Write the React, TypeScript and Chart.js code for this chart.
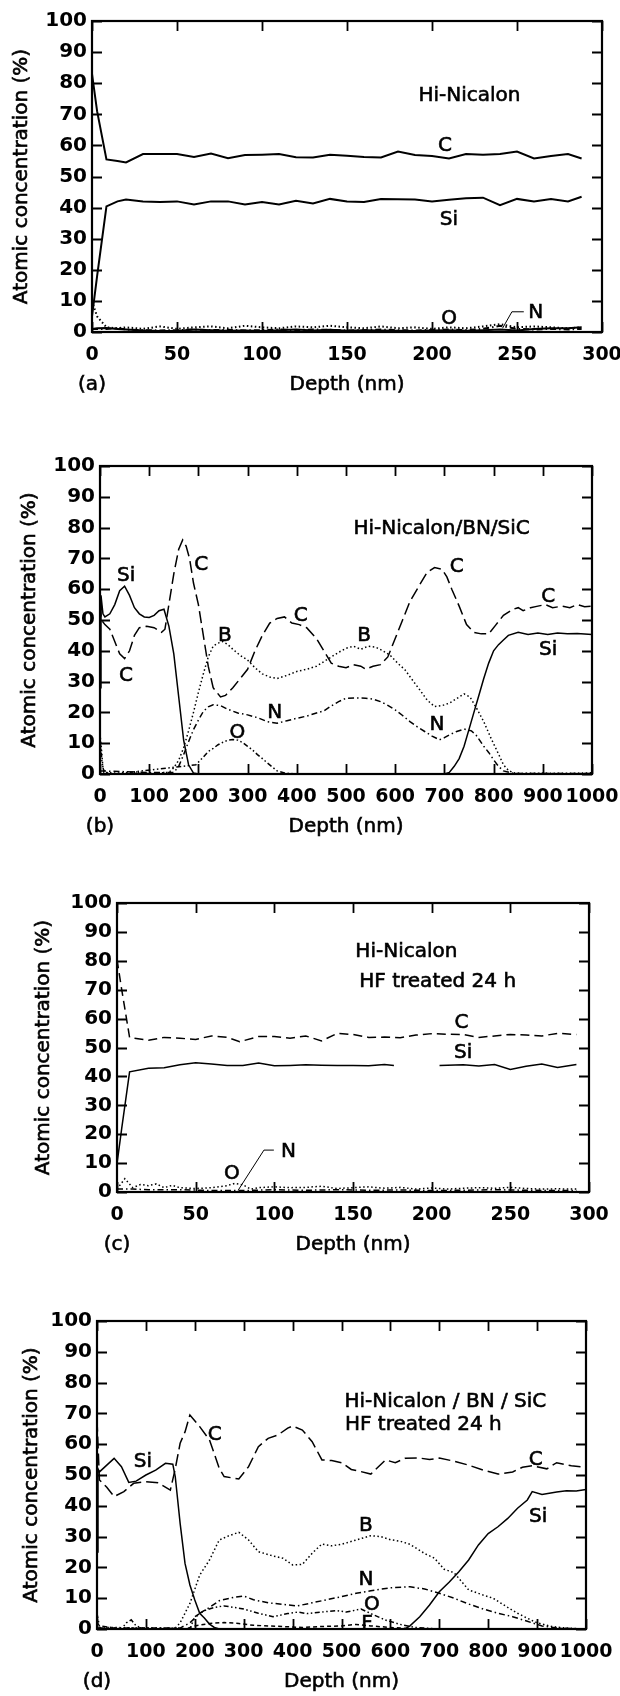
import React, { useEffect, useRef } from 'react';
import { Chart, registerables } from 'chart.js';

Chart.register(...registerables);

const FONT = '"DejaVu Sans", sans-serif';

// ---------------- Panel (a) Hi-Nicalon ----------------
const aDepth = [0, 3, 8.5, 15, 20, 30, 40, 50, 60, 70, 80, 90, 100, 110, 120, 130, 140, 150, 160, 170, 180, 190, 200, 210, 220, 230, 240, 250, 260, 270, 280, 288];
const aC = [83, 71, 55.5, 55, 54.5, 57.2, 57.2, 57.2, 56.3, 57.4, 55.9, 56.9, 57, 57.2, 56.2, 56.1, 57, 56.7, 56.3, 56.1, 58, 56.9, 56.6, 55.8, 57.2, 57, 57.2, 58, 55.8, 56.6, 57.2, 55.8];
const aSi = [5, 18, 40.4, 42, 42.6, 42, 41.8, 42, 41, 42, 42, 41, 41.8, 41, 42.2, 41.3, 42.8, 42, 41.8, 42.8, 42.7, 42.6, 42, 42.5, 43, 43.2, 40.8, 42.8, 42, 42.8, 42, 43.5];
const aO = [10, 5, 1.5, 1.2, 1.5, 1, 1.8, 1, 1.5, 1.8, 1.2, 2, 1.5, 1.2, 1.8, 1.5, 2, 1.5, 1.2, 1.8, 1.2, 1.5, 1, 1.5, 1.2, 1.8, 2.5, 1.5, 1.8, 1.5, 1.2, 1.5];
const aN = [1, 1, 1, 1.2, 0.8, 0.6, 0.5, 0.6, 0.8, 0.6, 0.7, 0.5, 0.6, 0.8, 0.6, 0.8, 0.7, 0.5, 0.6, 0.8, 0.6, 0.5, 0.7, 0.8, 0.6, 1, 2, 1, 0.8, 1, 0.8, 1];
const aB = [1, 1.2, 1.3, 1, 0.8, 0.5, 0.3, 0.3, 0.8, 0.6, 0.4, 0.5, 0.3, 0.6, 0.8, 0.5, 0.7, 0.4, 0.6, 0.5, 0.4, 0.3, 0.5, 0.6, 0.4, 0.6, 0.8, 0.5, 1, 1.2, 1.2, 1.5];

// ---------------- Panel (b) Hi-Nicalon/BN/SiC ----------------
const bSiDepth = [0, 2, 6, 10, 20, 30, 40, 50, 60, 70, 80, 90, 100, 110, 120, 130, 140, 150, 160, 170, 180, 190, 200, 700, 710, 720, 730, 740, 750, 760, 770, 780, 790, 800, 810, 820, 830, 850, 870, 890, 910, 930, 950, 970, 1000];
const bSi = [28, 58, 52, 51, 52, 55, 59.5, 61, 58, 54, 52, 51, 50.8, 51.5, 53, 53.5, 48, 39, 25, 11, 3, 0.3, 0, 0, 0.5, 2.5, 5, 9, 14.5, 20, 25.5, 31, 36, 40, 42, 43.5, 45, 46, 45.3, 45.8, 45.3, 45.8, 45.5, 45.6, 45.3];
const bCDepth = [0, 3, 10, 20, 30, 40, 50, 60, 70, 80, 95, 110, 125, 132, 140, 150, 160, 168, 175, 182, 190, 200, 210, 220, 230, 245, 255, 270, 285, 300, 315, 330, 345, 360, 375, 390, 405, 420, 440, 455, 470, 485, 500, 515, 530, 540, 555, 570, 585, 600, 615, 630, 650, 665, 680, 695, 705, 715, 730, 745, 760, 775, 790, 805, 820, 840, 850, 860, 875, 890, 905, 920, 940, 955, 970, 985, 1000];
const bC = [55, 50, 48.5, 47, 43, 39, 37.5, 40, 45, 47.5, 48, 47.5, 46, 47, 55, 65, 73, 76, 74, 70, 62, 55, 45, 35, 28, 25, 25.5, 28, 31, 34, 40, 45, 49, 50.5, 51, 49, 48.5, 47.5, 44, 40, 36, 35, 34.5, 35.5, 35, 34, 35, 35.5, 38, 44, 50, 56, 61.5, 65.5, 67, 66.5, 64, 60, 54.5, 48.5, 46, 45.5, 45.5, 48.5, 51.5, 53.5, 54, 53, 54, 54.5, 55, 54, 54.5, 54, 55, 54.3, 54.5];
const bBDepth = [0, 3, 6, 10, 30, 60, 100, 140, 150, 160, 170, 180, 190, 200, 210, 220, 230, 240, 250, 260, 270, 285, 300, 315, 330, 345, 360, 380, 400, 420, 440, 455, 470, 485, 500, 515, 530, 545, 560, 575, 590, 605, 620, 635, 650, 665, 680, 695, 710, 725, 740, 752, 765, 780, 795, 810, 820, 830, 840, 860, 900, 950, 1000];
const bB = [13, 8, 2, 0.5, 0.3, 0.5, 0.3, 0.5, 2, 4.5, 8.5, 14, 20, 26.5, 32.5, 38, 41.5, 42.5, 43, 42, 40.5, 38.5, 37, 34.5, 32.5, 31.5, 31, 32, 33.3, 34, 35, 36.5, 38, 39.5, 40.8, 41.5, 40.5, 41.5, 41.2, 40, 38.5, 36, 33.8, 30.5, 27.3, 24, 21.9, 22.2, 23, 24.5, 26, 25, 21.5, 17, 11.5, 6.5, 3, 1.2, 0.4, 0.2, 0.3, 0.2, 0.4];
const bNDepth = [0, 100, 150, 160, 170, 180, 190, 200, 210, 220, 230, 245, 260, 280, 300, 320, 340, 360, 380, 400, 420, 440, 455, 470, 485, 500, 520, 540, 555, 570, 585, 600, 615, 630, 645, 660, 675, 690, 700, 710, 725, 740, 755, 765, 780, 790, 800, 810, 820, 840, 1000];
const bN = [1, 0.5, 0.5, 2.5, 6.3, 10.5, 14.4, 17.5, 20.3, 21.8, 22.5, 22.2, 21, 19.8, 19.2, 18.3, 17, 16.5, 17.3, 18.1, 18.8, 19.8, 20.5, 22.1, 23.5, 24.6, 24.7, 24.6, 24.3, 23.5, 22.3, 20.8, 19, 17, 15.3, 13.8, 12.3, 11.1, 11.8, 12.7, 13.8, 14.6, 14, 12.5, 9, 7, 4.6, 2.5, 1, 0.2, 0.2];
const bODepth = [0, 4, 8, 30, 195, 210, 220, 230, 240, 250, 260, 270, 280, 290, 300, 310, 320, 330, 340, 350, 360, 375, 400, 1000];
const bO = [12, 4, 0.5, 0, 3, 5.5, 7.3, 8.3, 9.5, 10.3, 11, 11.2, 11, 10.2, 9, 7.8, 6.3, 5, 3.6, 2.3, 1, 0.3, 0, 0];

// ---------------- Panel (c) Hi-Nicalon HF treated ----------------
const cCDepth = [0, 3, 8, 20, 30, 40, 50, 60, 70, 78, 90, 100, 110, 120, 130, 140, 150, 160, 170, 180, 190, 200, 210, 220, 230, 240, 250, 260, 270, 280, 292];
const cC = [80.5, 70, 53.5, 52.5, 53.5, 53.2, 52.8, 54, 53.5, 52, 53.8, 53.8, 53.2, 54, 52.3, 54.9, 54.5, 53.5, 53.6, 53.4, 54.3, 54.8, 54.6, 54.5, 53.5, 54, 54.5, 54.3, 54, 54.9, 54.5];
const cSiDepth = [0, 3, 8, 20, 30, 40, 50, 60, 70, 80, 90, 100, 110, 120, 130, 140, 150, 160, 170, 176, 190, 205, 220, 230, 240, 250, 260, 270, 280, 292];
const cSi = [9.8, 22, 41.6, 42.8, 43, 44, 44.7, 44.3, 43.8, 43.8, 44.6, 43.7, 43.8, 44, 43.9, 43.8, 43.8, 43.7, 44.1, 43.8, null, 43.8, 44, 43.6, 44.1, 42.4, 43.5, 44.3, 43.1, 44.1];
const cODepth = [0, 5, 10, 15, 20, 25, 30, 35, 40, 50, 60, 70, 75, 80, 85, 90, 100, 110, 120, 130, 140, 150, 160, 170, 180, 190, 200, 210, 220, 230, 240, 250, 260, 270, 280, 292];
const cO = [1, 4.6, 1.5, 2.6, 2.2, 2.8, 1.5, 2.3, 1.5, 1.2, 1.5, 2.2, 3, 2.5, 1, 1.5, 1.8, 1.5, 1.6, 2, 1.2, 1.5, 1.8, 1.3, 1.6, 1, 1.4, 1, 1.3, 1.5, 1.3, 1.6, 1.2, 1, 1.1, 1];
const cNDepth = [0, 10, 20, 40, 60, 80, 100, 120, 140, 160, 180, 200, 220, 240, 260, 280, 292];
const cN = [1, 1, 0.8, 0.8, 0.5, 0.5, 0.8, 0.6, 0.8, 0.6, 0.7, 0.5, 0.6, 0.8, 0.6, 0.5, 0.5];

// ---------------- Panel (d) Hi-Nicalon/BN/SiC HF treated ----------------
const dSiDepth = [0, 2, 5, 20, 35, 50, 65, 80, 100, 120, 140, 155, 160, 170, 180, 190, 200, 210, 220, 230, 240, 250, 630, 640, 660, 680, 700, 720, 740, 760, 780, 800, 820, 840, 860, 880, 890, 910, 940, 960, 980, 1000];
const dSi = [25, 52, 51, 53.2, 55.4, 52.7, 47.6, 48, 50, 51.6, 53.8, 53.5, 49.5, 34.3, 21.3, 14.3, 9.4, 5.1, 3.5, 1.6, 0.5, 0, 0, 1, 4, 7.8, 12.1, 15.2, 18.6, 22.4, 27.3, 31, 33.2, 35.9, 39.2, 41.9, 44.6, 43.7, 44.5, 44.9, 44.8, 45.3];
const dCDepth = [0, 5, 20, 35, 55, 75, 100, 125, 150, 160, 170, 180, 190, 210, 230, 250, 260, 290, 310, 330, 350, 370, 390, 400, 420, 440, 460, 480, 500, 520, 540, 560, 590, 610, 630, 660, 680, 700, 730, 760, 790, 820, 850, 870, 890, 920, 940, 970, 1000];
const dC = [68, 48.4, 46, 43, 44.6, 47.3, 47.8, 47.5, 45.1, 52, 60.3, 64, 69.5, 65.7, 61.4, 52.2, 49.5, 48.7, 52.7, 59.2, 61.9, 63, 65.2, 65.9, 64.6, 60.8, 54.9, 54.7, 54, 51.8, 51.1, 50.3, 54.9, 54, 55.4, 55.5, 55, 55.5, 54.5, 53.2, 51.6, 50.3, 51, 52.5, 53, 52, 54, 53, 52.5];
const dBDepth = [0, 5, 160, 170, 190, 210, 230, 250, 270, 290, 310, 330, 360, 380, 400, 420, 440, 460, 480, 500, 530, 560, 580, 600, 620, 640, 670, 690, 710, 730, 760, 790, 810, 840, 860, 880, 900, 930, 960, 1000];
const dB = [3, 0.5, 0.3, 2, 8.3, 17.5, 22.4, 28.9, 30.3, 31.4, 28.9, 25.1, 23.7, 23, 20.8, 21, 24.6, 27.6, 27, 27.5, 28.9, 30.3, 30, 29, 28.5, 27.5, 24.5, 23, 19.4, 18.3, 12.7, 11, 10, 7, 5.1, 3.5, 2, 0.8, 0.3, 0];
const dNDepth = [0, 170, 190, 210, 230, 250, 280, 300, 320, 350, 380, 410, 440, 470, 500, 530, 560, 600, 640, 670, 700, 730, 760, 790, 820, 850, 880, 910, 940, 1000];
const dN = [0.3, 0.3, 2, 5.1, 7, 9.2, 10.3, 10.7, 9.5, 8.5, 8, 7.5, 8.5, 9.5, 10.5, 11.6, 12.4, 13.4, 13.7, 13, 11.6, 10, 8.1, 6.5, 5.1, 4, 2.5, 1, 0.3, 0];
const dODepth = [0, 5, 50, 60, 70, 80, 100, 190, 200, 220, 240, 260, 280, 300, 330, 360, 390, 410, 430, 460, 490, 510, 540, 560, 590, 620, 650, 700, 1000];
const dO = [5, 1, 0, 2, 3, 1, 0, 0, 4, 6, 7, 7.5, 7, 6.5, 5.1, 4, 5, 5.5, 5, 5.5, 6, 5.5, 6.5, 5, 2.9, 1.5, 0.5, 0, 0];
const dFDepth = [0, 180, 200, 230, 260, 290, 320, 350, 380, 420, 460, 500, 530, 560, 600, 650, 1000];
const dF = [0, 0, 1, 1.8, 2.1, 1.8, 1.2, 1, 0.8, 0.5, 0.8, 1, 1.5, 1, 0.5, 0, 0];

// line styles
const SOLID: number[] = [];
const LONG_DASH = [12, 5];
const DASH = [9, 5];
const DOT = [1.5, 2.5];
const DASH_DOT = [6, 3, 1.5, 3];
const DASH_DOT_DOT = [5, 2.5, 1.5, 2.5, 1.5, 2.5];
const SHORT_DASH = [4, 3];

const X_TITLE = 'Depth (nm)';
const Y_TITLE = 'Atomic concentration (%)';

type Series = { x: number[]; y: (number | null)[]; dash: number[] };
type Label = { t: string; x: number; y: number; align?: CanvasTextAlign };
type PanelCfg = {
  letter: string;
  canvasTop: number;
  canvasBottom: number;
  L: number; R: number; T: number; B: number;
  xMax: number; xStep: number;
  tickY: number; titleY: number; yTitleX: number;
  lw: number;
  series: Series[];
  labels: Label[];
  leaders: number[][][];
};

const panels: PanelCfg[] = [
  {
    letter: '(a)', canvasTop: 0, canvasBottom: 403,
    L: 92, R: 602, T: 21, B: 332, xMax: 300, xStep: 50,
    tickY: 355, titleY: 385, yTitleX: 22, lw: 2,
    series: [
      { x: aDepth, y: aC, dash: SOLID },
      { x: aDepth, y: aSi, dash: SOLID },
      { x: aDepth, y: aO, dash: DOT },
      { x: aDepth, y: aN, dash: DASH_DOT },
      { x: aDepth, y: aB, dash: SOLID },
    ],
    labels: [
      { t: 'Hi-Nicalon', x: 192, y: 76, align: 'left' },
      { t: 'C', x: 207.6, y: 59.9 },
      { t: 'Si', x: 210, y: 36 },
      { t: 'O', x: 210, y: 4.3 },
      { t: 'N', x: 261, y: 6.3 },
    ],
    leaders: [[[241.5, 1.2], [247, 6.5], [254, 6.5]]],
  },
  {
    letter: '(b)', canvasTop: 420, canvasBottom: 845,
    L: 100, R: 592, T: 466, B: 774, xMax: 1000, xStep: 100,
    tickY: 797, titleY: 827, yTitleX: 30, lw: 1.5,
    series: [
      { x: bSiDepth, y: bSi, dash: SOLID },
      { x: bCDepth, y: bC, dash: LONG_DASH },
      { x: bBDepth, y: bB, dash: DOT },
      { x: bNDepth, y: bN, dash: DASH_DOT },
      { x: bODepth, y: bO, dash: DASH_DOT_DOT },
    ],
    labels: [
      { t: 'Hi-Nicalon/BN/SiC', x: 515, y: 79.7, align: 'left' },
      { t: 'Si', x: 53, y: 64.3 },
      { t: 'C', x: 53, y: 32 },
      { t: 'C', x: 206, y: 68 },
      { t: 'B', x: 254, y: 45 },
      { t: 'C', x: 408, y: 51.4 },
      { t: 'B', x: 537, y: 44.8 },
      { t: 'C', x: 725, y: 67.3 },
      { t: 'C', x: 911, y: 57.6 },
      { t: 'Si', x: 911, y: 40.3 },
      { t: 'N', x: 355, y: 19.8 },
      { t: 'N', x: 685, y: 16 },
      { t: 'O', x: 279, y: 13.3 },
    ],
    leaders: [],
  },
  {
    letter: '(c)', canvasTop: 860, canvasBottom: 1263,
    L: 117, R: 589, T: 903, B: 1192, xMax: 300, xStep: 50,
    tickY: 1215, titleY: 1245, yTitleX: 43.5, lw: 1.5,
    series: [
      { x: cCDepth, y: cC, dash: DASH },
      { x: cSiDepth, y: cSi, dash: SOLID },
      { x: cODepth, y: cO, dash: DOT },
      { x: cNDepth, y: cN, dash: DASH_DOT },
    ],
    labels: [
      { t: 'Hi-Nicalon', x: 151.5, y: 83.2, align: 'left' },
      { t: 'HF treated 24 h', x: 154, y: 72.8, align: 'left' },
      { t: 'C', x: 219, y: 58.4 },
      { t: 'Si', x: 220, y: 48.2 },
      { t: 'N', x: 109, y: 13.9 },
      { t: 'O', x: 73, y: 6.4 },
    ],
    leaders: [[[77, 0.6], [93.4, 14.5], [99.7, 14.5]]],
  },
  {
    letter: '(d)', canvasTop: 1275, canvasBottom: 1696,
    L: 97, R: 586, T: 1321, B: 1629, xMax: 1000, xStep: 100,
    tickY: 1652, titleY: 1682, yTitleX: 32, lw: 1.5,
    series: [
      { x: dSiDepth, y: dSi, dash: SOLID },
      { x: dCDepth, y: dC, dash: LONG_DASH },
      { x: dBDepth, y: dB, dash: DOT },
      { x: dNDepth, y: dN, dash: DASH_DOT },
      { x: dODepth, y: dO, dash: DASH_DOT_DOT },
      { x: dFDepth, y: dF, dash: SHORT_DASH },
    ],
    labels: [
      { t: 'Hi-Nicalon / BN / SiC', x: 506, y: 73.8, align: 'left' },
      { t: 'HF treated 24 h', x: 507, y: 66.2, align: 'left' },
      { t: 'C', x: 241, y: 63.2 },
      { t: 'Si', x: 94, y: 54.3 },
      { t: 'C', x: 897, y: 54.9 },
      { t: 'Si', x: 902, y: 36.5 },
      { t: 'B', x: 550, y: 33.4 },
      { t: 'N', x: 550, y: 15.9 },
      { t: 'O', x: 562, y: 8 },
      { t: 'F', x: 552, y: 1.6 },
    ],
    leaders: [],
  },
];

const X_TICK_SIZE = 19;
const Y_TICK_SIZE = 20;
const TITLE_SIZE = 20;
const LABEL_SIZE = 20;
const EMBOLDEN = 0.6;

function Panel({ cfg }: { cfg: PanelCfg }) {
  const ref = useRef<HTMLCanvasElement>(null);
  const h = cfg.canvasBottom - cfg.canvasTop;

  useEffect(() => {
    const canvas = ref.current;
    if (!canvas) return;

    const deco = {
      id: 'deco' + cfg.letter,
      afterDatasetsDraw(chart: any) {
        const { ctx, chartArea: a, scales } = chart;
        const sx = scales.x;
        const sy = scales.y;
        ctx.save();
        ctx.strokeStyle = '#000';
        ctx.fillStyle = '#000';
        ctx.setLineDash([]);
        // frame
        ctx.lineWidth = 2.2;
        ctx.strokeRect(a.left, a.top, a.right - a.left, a.bottom - a.top);
        // inward ticks on all sides
        const len = 10;
        ctx.lineWidth = 1.8;
        ctx.beginPath();
        sx.ticks.forEach((t: any) => {
          const px = Math.round(sx.getPixelForValue(t.value)) + 0.5;
          ctx.moveTo(px, a.bottom); ctx.lineTo(px, a.bottom - len);
          ctx.moveTo(px, a.top); ctx.lineTo(px, a.top + len);
        });
        sy.ticks.forEach((t: any) => {
          const py = Math.round(sy.getPixelForValue(t.value)) + 0.5;
          ctx.moveTo(a.left, py); ctx.lineTo(a.left + len, py);
          ctx.moveTo(a.right, py); ctx.lineTo(a.right - len, py);
        });
        ctx.stroke();
        // leader lines
        ctx.lineWidth = 1;
        cfg.leaders.forEach((pts) => {
          ctx.beginPath();
          pts.forEach((p, i) => {
            const px = sx.getPixelForValue(p[0]);
            const py = sy.getPixelForValue(p[1]);
            if (i === 0) ctx.moveTo(px, py); else ctx.lineTo(px, py);
          });
          ctx.stroke();
        });
        // text labels (slightly emboldened like the printed figure)
        ctx.font = `${LABEL_SIZE}px ${FONT}`;
        ctx.textBaseline = 'middle';
        ctx.lineWidth = EMBOLDEN;
        cfg.labels.forEach((l) => {
          ctx.textAlign = l.align || 'center';
          const px = sx.getPixelForValue(l.x);
          const py = sy.getPixelForValue(l.y);
          ctx.fillText(l.t, px, py);
          ctx.strokeText(l.t, px, py);
        });
        // panel letter under the left axis
        ctx.textAlign = 'center';
        ctx.font = `${TITLE_SIZE}px ${FONT}`;
        const ly = cfg.titleY - cfg.canvasTop;
        ctx.fillText(cfg.letter, a.left, ly);
        ctx.strokeText(cfg.letter, a.left, ly);
        ctx.restore();
      },
      afterDraw(chart: any) {
        // thicken the axis titles drawn by Chart.js
        const { ctx, chartArea: a } = chart;
        ctx.save();
        ctx.strokeStyle = '#000';
        ctx.lineWidth = EMBOLDEN;
        ctx.font = `${TITLE_SIZE}px ${FONT}`;
        ctx.textAlign = 'center';
        ctx.textBaseline = 'middle';
        ctx.strokeText(X_TITLE, (a.left + a.right) / 2, cfg.titleY - cfg.canvasTop);
        ctx.translate(cfg.yTitleX, (a.top + a.bottom) / 2);
        ctx.rotate(-Math.PI / 2);
        ctx.strokeText(Y_TITLE, 0, 0);
        ctx.restore();
      },
    };

    const chart = new Chart(canvas, {
      type: 'line',
      data: {
        datasets: cfg.series.map((s) => ({
          data: s.x.map((x, i) => ({ x, y: s.y[i] })),
          borderColor: '#000',
          borderWidth: cfg.lw,
          borderDash: s.dash,
          pointRadius: 0,
          fill: false,
          tension: 0,
          spanGaps: false,
        })),
      },
      options: {
        responsive: false,
        animation: false,
        devicePixelRatio: 1,
        events: [],
        layout: { padding: { top: cfg.T - cfg.canvasTop, right: 620 - cfg.R, left: 0, bottom: 0 } },
        plugins: { legend: { display: false }, tooltip: { enabled: false } },
        scales: {
          x: {
            type: 'linear',
            min: 0,
            max: cfg.xMax,
            grid: { display: false, drawTicks: false },
            border: { display: false },
            ticks: {
              stepSize: cfg.xStep,
              color: '#000',
              font: { family: FONT, size: X_TICK_SIZE, weight: 'bold' },
              padding: cfg.tickY - cfg.B - X_TICK_SIZE * 0.6,
              maxRotation: 0,
              autoSkip: false,
              callback: (v: any) => String(v),
            },
            title: {
              display: true,
              text: X_TITLE,
              color: '#000',
              font: { family: FONT, size: TITLE_SIZE },
              padding: { top: 0, bottom: cfg.canvasBottom - cfg.titleY - TITLE_SIZE * 0.6 },
            },
            afterFit: (s: any) => {
              s.height = cfg.canvasBottom - cfg.B;
              s.paddingLeft = 0;
              s.paddingRight = 0;
            },
          },
          y: {
            type: 'linear',
            min: 0,
            max: 100,
            grid: { display: false, drawTicks: false },
            border: { display: false },
            ticks: {
              stepSize: 10,
              color: '#000',
              font: { family: FONT, size: Y_TICK_SIZE, weight: 'bold' },
              padding: 5,
              callback: (v: any) => String(v),
            },
            title: {
              display: true,
              text: Y_TITLE,
              color: '#000',
              font: { family: FONT, size: TITLE_SIZE },
              padding: { top: cfg.yTitleX - TITLE_SIZE * 0.6, bottom: 0 },
            },
            afterFit: (s: any) => {
              s.width = cfg.L;
              s.paddingTop = 0;
              s.paddingBottom = 0;
            },
          },
        },
      },
      plugins: [deco],
    } as any);

    return () => chart.destroy();
  }, [cfg]);

  return (
    <canvas
      ref={ref}
      width={620}
      height={h}
      style={{ position: 'absolute', left: 0, top: cfg.canvasTop, width: 620, height: h }}
    />
  );
}

export default function App() {
  return (
    <div style={{ position: 'absolute', left: 0, top: 0, width: 620, height: 1696, background: '#fff', overflow: 'hidden' }}>
      {panels.map((p) => (
        <Panel key={p.letter} cfg={p} />
      ))}
    </div>
  );
}
